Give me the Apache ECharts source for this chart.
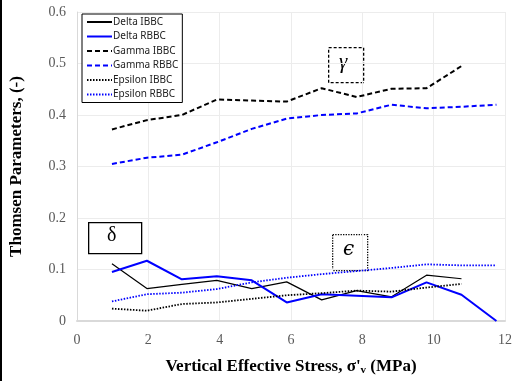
<!DOCTYPE html>
<html>
<head>
<meta charset="utf-8">
<script src="https://cdn.jsdelivr.net/npm/echarts@6/dist/echarts.min.js"></script>
<style>
  html, body { margin: 0; padding: 0; background: #fff; }
  #ct1 { width: 520px; height: 381px; }
</style>
</head>
<body>
<div id="ct1"></div>
<script>
// stress values (MPa)
var stressIBBC = [0.98, 1.96, 2.94, 3.92, 4.90, 5.88, 6.86, 7.84, 8.82, 9.80, 10.78];
var stressRBBC = [0.98, 1.96, 2.94, 3.92, 4.90, 5.88, 6.86, 7.84, 8.82, 9.80, 10.78, 11.76];

var deltaIBBC = [0.111, 0.063, 0.071, 0.079, 0.063, 0.076, 0.041, 0.059, 0.047, 0.089, 0.082];
var deltaRBBC = [0.095, 0.117, 0.081, 0.087, 0.079, 0.036, 0.052, 0.049, 0.046, 0.075, 0.051, 0.000];
var gammaIBBC = [0.372, 0.390, 0.400, 0.430, 0.428, 0.426, 0.452, 0.435, 0.451, 0.452, 0.495];
var gammaRBBC = [0.305, 0.317, 0.323, 0.347, 0.373, 0.393, 0.400, 0.403, 0.420, 0.413, 0.416, 0.420];
var epsilonIBBC = [0.024, 0.020, 0.033, 0.036, 0.043, 0.050, 0.054, 0.059, 0.057, 0.065, 0.072];
var epsilonRBBC = [0.038, 0.052, 0.055, 0.062, 0.075, 0.084, 0.091, 0.097, 0.103, 0.110, 0.108, 0.108];

var seriesNames = ['Delta IBBC', 'Delta RBBC', 'Gamma IBBC', 'Gamma RBBC', 'Epsilon IBBC', 'Epsilon RBBC'];

function pairs(xs, ys) {
    return ys.map(function (y, i) { return [xs[i], y]; });
}

function lineSeries(name, xs, ys, color, type, width) {
    return {
        name: name,
        type: 'line',
        data: pairs(xs, ys),
        symbol: 'none',
        color: color,
        lineStyle: { color: color, type: type, width: width },
        animation: false
    };
}

window.onload = function () {
    var myChart = echarts.init(document.getElementById('ct1'));

    var serif = "'Liberation Serif', 'Times New Roman', serif";

    var option = {
        backgroundColor: '#fff',
        grid: { left: 77, right: 15, top: 12, bottom: 55 },
        legend: {
            data: seriesNames,
            orient: 'vertical',
            left: 82,
            top: 14,
            padding: [3, 4, 3, 4],
            itemWidth: 25,
            itemHeight: 10,
            itemGap: 4.5,
            borderColor: '#000',
            borderWidth: 1,
            backgroundColor: '#fff',
            itemStyle: { opacity: 0 },
            textStyle: { fontFamily: 'Noto Sans', fontSize: 10, color: '#222', padding: [0, 0, 0, -4] }
        },
        xAxis: {
            type: 'value',
            min: 0,
            max: 12,
            interval: 2,
            name: "Vertical Effective Stress, σ'{sub|v} (MPa)",
            nameLocation: 'middle',
            nameGap: 36,
            nameTextStyle: {
                fontFamily: serif, fontSize: 17, fontWeight: 'bold', color: '#000',
                rich: { sub: { fontFamily: serif, fontSize: 11, fontWeight: 'bold', verticalAlign: 'bottom', padding: [8, 0, 0, 0] } }
            },
            axisLine: { lineStyle: { color: '#d9d9d9', width: 2 } },
            axisTick: { show: false },
            axisLabel: { fontFamily: serif, fontSize: 14, color: '#595959', margin: 12 },
            splitLine: { lineStyle: { color: '#ececec' } }
        },
        yAxis: {
            type: 'value',
            min: 0,
            max: 0.6,
            interval: 0.1,
            name: 'Thomsen Parameters, (-)',
            nameLocation: 'middle',
            nameGap: 52,
            nameTextStyle: { fontFamily: serif, fontSize: 17, fontWeight: 'bold', color: '#000' },
            axisLine: { show: true, lineStyle: { color: '#d9d9d9' } },
            axisTick: { show: false },
            axisLabel: { fontFamily: serif, fontSize: 14, color: '#595959', margin: 11 },
            splitLine: { lineStyle: { color: '#ececec' } }
        },
        series: [
            lineSeries(seriesNames[0], stressIBBC, deltaIBBC, '#000000', 'solid', 1.2),
            lineSeries(seriesNames[1], stressRBBC, deltaRBBC, '#0000ff', 'solid', 2),
            lineSeries(seriesNames[2], stressIBBC, gammaIBBC, '#000000', [5, 3], 2),
            lineSeries(seriesNames[3], stressRBBC, gammaRBBC, '#0000ff', [5, 3], 2),
            lineSeries(seriesNames[4], stressIBBC, epsilonIBBC, '#000000', [1.5, 1.5], 1.8),
            lineSeries(seriesNames[5], stressRBBC, epsilonRBBC, '#0000ff', [1.5, 1.5], 1.8)
        ],
        graphic: [
            // left frame edge
            { type: 'rect', left: 0, top: 0, shape: { width: 2, height: 381 }, style: { fill: '#000' } },
            // delta box
            { type: 'rect', left: 88, top: 222, shape: { width: 53, height: 31 }, style: { fill: '#fff', stroke: '#000', lineWidth: 1.3 } },
            { type: 'text', left: 107, top: 226, style: { text: 'δ', font: "20px 'Liberation Serif'", fill: '#000' } },
            // gamma box
            { type: 'rect', left: 328, top: 47, shape: { width: 35, height: 35 }, style: { fill: '#fff', stroke: '#000', lineWidth: 1.3, lineDash: [3, 2] } },
            { type: 'text', left: 339, top: 52, style: { text: 'γ', font: "italic 21px 'Liberation Serif'", fill: '#000' } },
            // epsilon box
            { type: 'rect', left: 332, top: 234, shape: { width: 35, height: 36 }, style: { fill: '#fff', stroke: '#000', lineWidth: 1.3, lineDash: [1.3, 1.3] } },
            { type: 'text', left: 343, top: 240, style: { text: 'ϵ', font: "italic 20px 'DejaVu Serif'", fill: '#000' } }
        ]
    };

    myChart.setOption(option);
};
</script>
</body>
</html>
